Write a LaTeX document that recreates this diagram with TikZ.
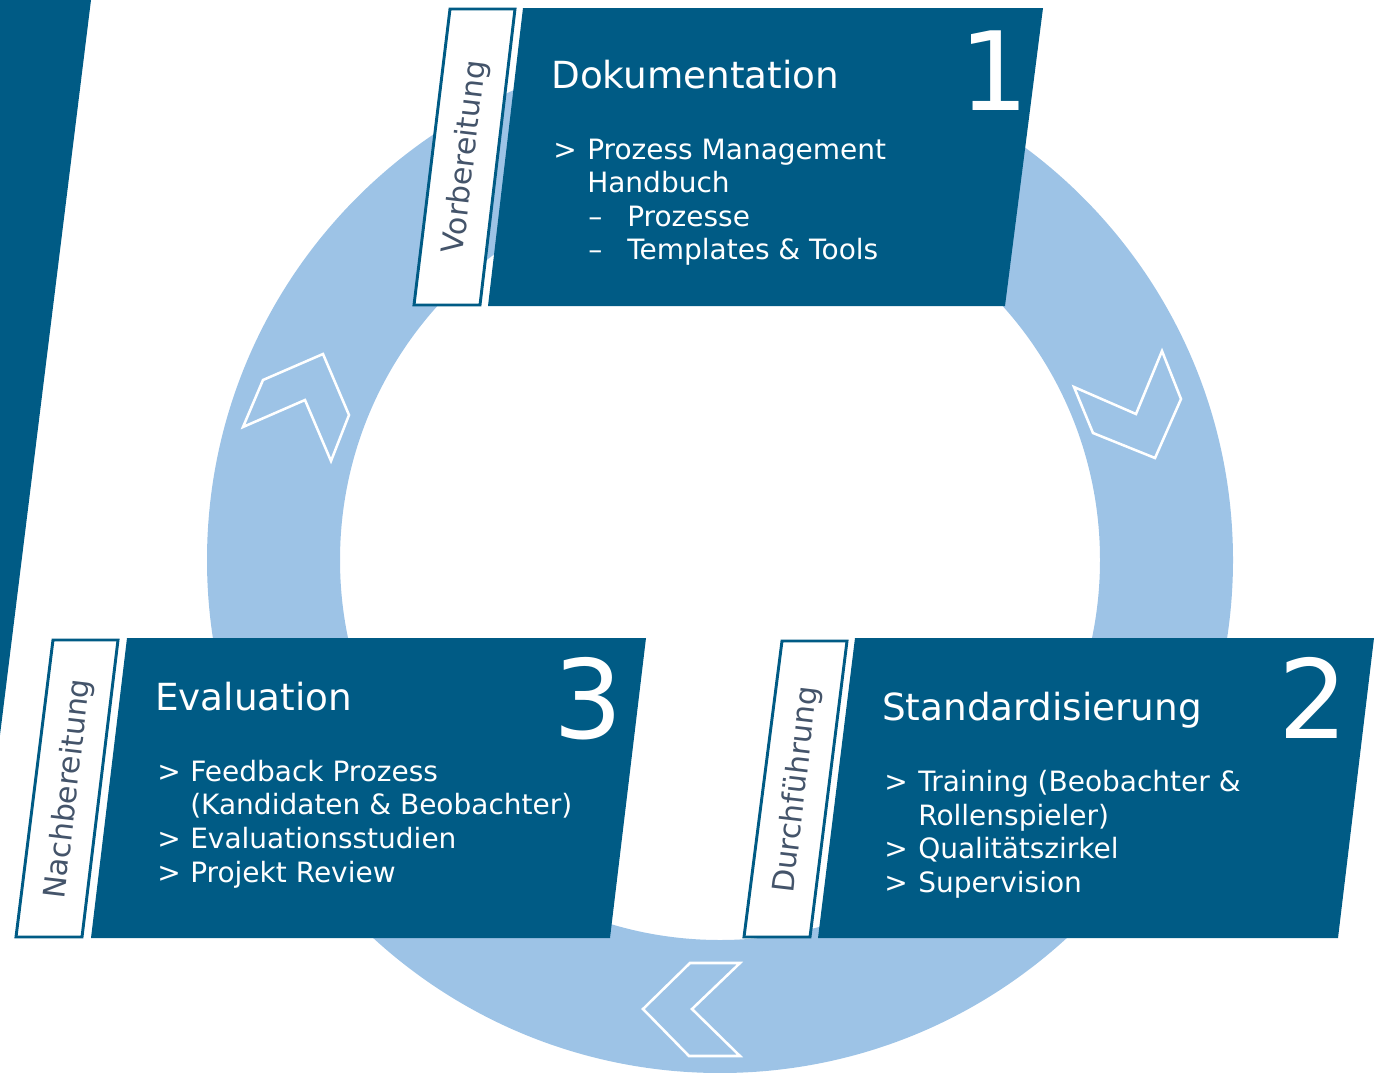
\documentclass[tikz,border=0pt]{standalone}
\usepackage{fontspec}
\setmainfont{DejaVu Sans}
\definecolor{dkblue}{HTML}{005B85}
\definecolor{ltblue}{HTML}{9DC3E6}
\definecolor{tabtxt}{HTML}{44546A}
\begin{document}
\begin{tikzpicture}[x=0.75pt,y=-0.75pt,
  box/.style={fill=dkblue},
  tabbox/.style={draw=dkblue,fill=white,line width=2.2pt},
  chev/.style={draw=white,line width=1.9pt,line join=miter},
  title/.style={anchor=base west,text=white,font=\fontsize{28}{30}\selectfont,inner sep=0pt},
  item/.style={anchor=base west,text=white,font=\fontsize{21}{24}\selectfont,inner sep=0pt},
  num/.style={anchor=base,text=white,font=\fontsize{82}{90}\selectfont,inner sep=0pt},
  tabtext/.style={text=tabtxt,font=\fontsize{22.5}{24}\selectfont,rotate=83.3,inner sep=0pt}]
\useasboundingbox (0,0) rectangle (1375,1072);
% ring
\fill[ltblue,even odd rule] (720,560) circle[radius=513] (720,560) circle[radius=380];
% left strip
\fill[dkblue] (0,0) -- (91,0) -- (0,735) -- cycle;
% chevrons
\draw[chev] (243,427) -- (263,380) -- (323,354) -- (349,415) -- (331,461) -- (305,400) -- cycle;
\draw[chev] (1074,387) -- (1136,414) -- (1162,351) -- (1181,399) -- (1155,458) -- (1093,433) -- cycle;
\draw[chev] (690,963) -- (740,963) -- (692,1009) -- (740,1056) -- (689,1056) -- (643,1009) -- cycle;
% boxes
\fill[box] (523,8) -- (1043,8) -- (1005,306) -- (488,306) -- cycle;
\fill[box] (127,638) -- (646,638) -- (610,938) -- (91,938) -- cycle;
\fill[box] (855,638) -- (1374,638) -- (1338,938) -- (818,938) -- cycle;
% tabs
\draw[tabbox] (450,9) -- (515,9) -- (480,305) -- (414,305) -- cycle;
\draw[tabbox] (53,640) -- (118,640) -- (82,937) -- (16,937) -- cycle;
\draw[tabbox] (782,641) -- (847,641) -- (810,937) -- (744,937) -- cycle;
\node[tabtext] (t1) at (466,157) {Vorbereitung};
\node[tabtext] (t3) at (69,789) {Nachbereitung};
\node[tabtext] (t2) at (797,790) {Durchführung};
% box 1
\node[title] (h1) at (551,88) {Dokumentation};
\node[num] (n1) at (994,110) {1};
\node[item] (a1) at (553,159) {>};
\node[item] (a1t) at (587,159) {Prozess Management};
\node[item] (a1u) at (587,192) {Handbuch};
\node[item] (a1d1) at (588,226) {–};
\node[item] (a1s1) at (627,226) {Prozesse};
\node[item] (a1d2) at (588,259) {–};
\node[item] (a1s2) at (627,259) {Templates \& Tools};
% box 3
\node[title] (h3) at (155,710) {Evaluation};
\node[num] (n3) at (588,738) {3};
\node[item] (c1) at (157,781) {>};
\node[item] (c1t) at (190,781) {Feedback Prozess};
\node[item] (c1u) at (190,814) {(Kandidaten \& Beobachter)};
\node[item] (c2) at (157,848) {>};
\node[item] (c2t) at (190,848) {Evaluationsstudien};
\node[item] (c3) at (157,882) {>};
\node[item] (c3t) at (190,882) {Projekt Review};
% box 2
\node[title] (h2) at (882,720) {Standardisierung};
\node[num] (n2) at (1313,738) {2};
\node[item] (b1) at (884,791) {>};
\node[item] (b1t) at (918,791) {Training (Beobachter \&};
\node[item] (b1u) at (918,825) {Rollenspieler)};
\node[item] (b2) at (884,858) {>};
\node[item] (b2t) at (918,858) {Qualitätszirkel};
\node[item] (b3) at (884,892) {>};
\node[item] (b3t) at (918,892) {Supervision};
\end{tikzpicture}
\end{document}
